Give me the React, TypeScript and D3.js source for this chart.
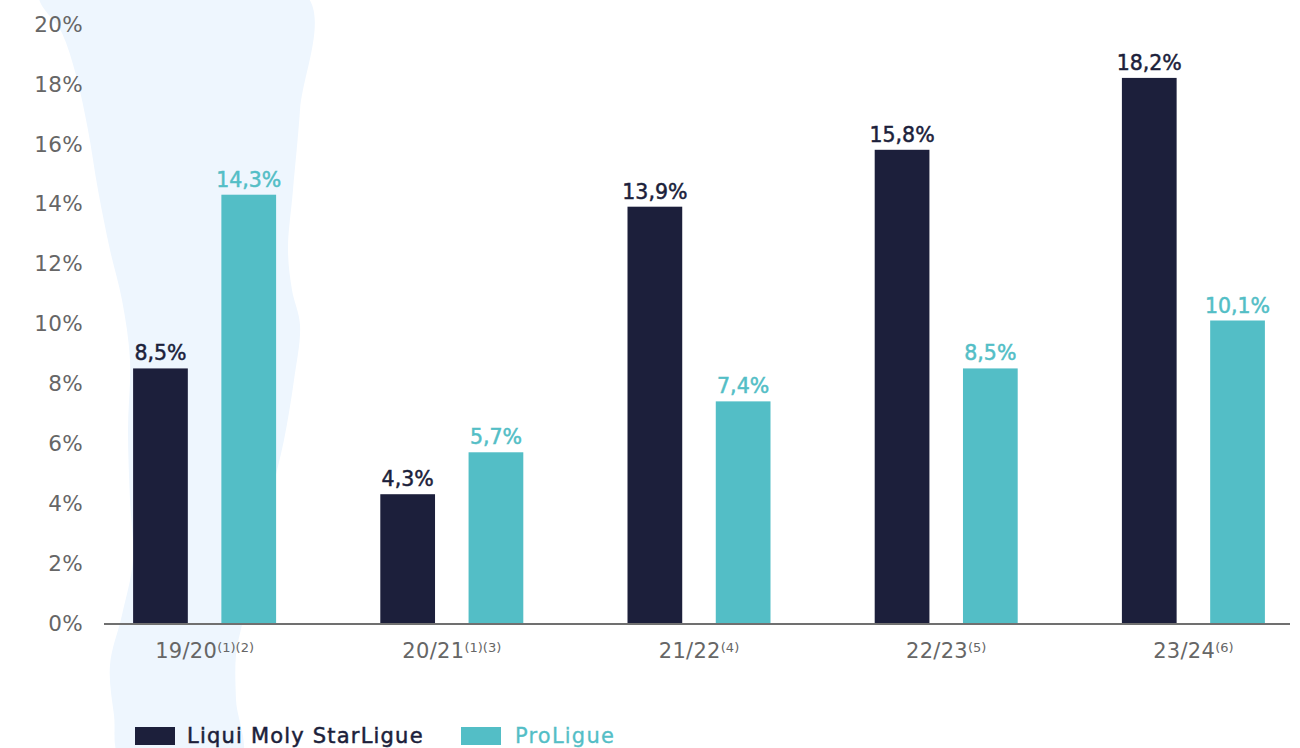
import React from "react";
import * as d3 from "d3";

const seasons = ["19/20", "20/21", "21/22", "22/23", "23/24"];
const notes = ["(1)(2)", "(1)(3)", "(4)", "(5)", "(6)"];
const starLigue = [8.5, 4.3, 13.9, 15.8, 18.2];
const proLigue = [14.3, 5.7, 7.4, 8.5, 10.1];
const yTicks = [0, 2, 4, 6, 8, 10, 12, 14, 16, 18, 20];
const seriesNames = ["Liqui Moly StarLigue", "ProLigue"];
const colors = ["#1c1f3b", "#53bec6"];

const W = 1300;
const H = 748;
const FONT = "'DejaVu Sans', 'Open Sans', sans-serif";

const fmt = (v: number) => v.toFixed(1).replace(".", ",") + "%";

export default function App() {
  const x = d3.scaleBand<string>().domain(seasons).range([81, 1317]).paddingInner(0).paddingOuter(0);
  const sub = d3.scaleBand<string>().domain(["a", "b"]).range([0, 143]).paddingInner(0.38).paddingOuter(0);
  const y = d3.scaleLinear().domain([0, 20]).range([623, 24]);

  const blob = d3.line<[number, number]>().curve(d3.curveCatmullRomClosed)([
    [40, -5], [62, 33], [76, 75], [88, 130], [98, 190], [110, 250], [122, 300], [130, 360],
    [128, 430], [130, 500], [133, 560], [122, 615], [110, 665], [114, 715], [122, 760],
    [240, 760], [236, 700], [236, 655], [242, 625], [255, 575], [270, 500], [284, 440],
    [294, 380], [300, 325], [292, 290], [288, 250], [293, 190], [300, 110], [306, -5],
  ]);

  const groupW = 143;
  const series = [starLigue, proLigue];

  return (
    <svg width={W} height={H} style={{ display: "block", position: "absolute", left: 0, top: 0 }}>
      <rect x={0} y={0} width={W} height={H} fill="#ffffff" />
      <path d={blob || ""} fill="#eef6fe" />
      {yTicks.map((t) => (
        <text key={t} x={83} y={y(t)} dy="0.36em" textAnchor="end" fontFamily={FONT} fontSize={21.5} fill="#666666" letterSpacing={0.3}>
          {t}%
        </text>
      ))}
      {seasons.map((s, i) => {
        const gx = (x(s) as number) + (x.bandwidth() - groupW) / 2;
        return (
          <g key={s}>
            {series.map((vals, k) => {
              const bx = gx + (sub(k === 0 ? "a" : "b") as number);
              const v = vals[i];
              return (
                <g key={k}>
                  <rect x={bx} y={y(v)} width={sub.bandwidth()} height={y(0) - y(v)} fill={colors[k]} />
                  <text
                    x={bx + sub.bandwidth() / 2}
                    y={y(v) - 8}
                    textAnchor="middle"
                    fontFamily={FONT}
                    fontSize={20.5}
                    fill={colors[k]}
                    stroke={colors[k]}
                    strokeWidth={0.5}
                  >
                    {fmt(v)}
                  </text>
                </g>
              );
            })}
            <text
              x={(x(s) as number) + x.bandwidth() / 2}
              y={658}
              textAnchor="middle"
              fontFamily={FONT}
              fontSize={21}
              fill="#666666"
              letterSpacing={0.3}
            >
              {s}
              <tspan fontSize={13} dy={-6} letterSpacing={0}>{notes[i]}</tspan>
            </text>
          </g>
        );
      })}
      <line x1={104} x2={1290} y1={y(0) + 1} y2={y(0) + 1} stroke="#707070" strokeWidth={2} />
      <g>
        <rect x={135} y={727} width={40} height={18} fill={colors[0]} />
        <text x={187} y={743} fontFamily={FONT} fontSize={21} letterSpacing={1.2} fill={colors[0]} stroke={colors[0]} strokeWidth={0.5}>
          {seriesNames[0]}
        </text>
        <rect x={461} y={727} width={40} height={18} fill={colors[1]} />
        <text x={515} y={743} fontFamily={FONT} fontSize={21} letterSpacing={1.2} fill={colors[1]} stroke={colors[1]} strokeWidth={0.3}>
          {seriesNames[1]}
        </text>
      </g>
    </svg>
  );
}
